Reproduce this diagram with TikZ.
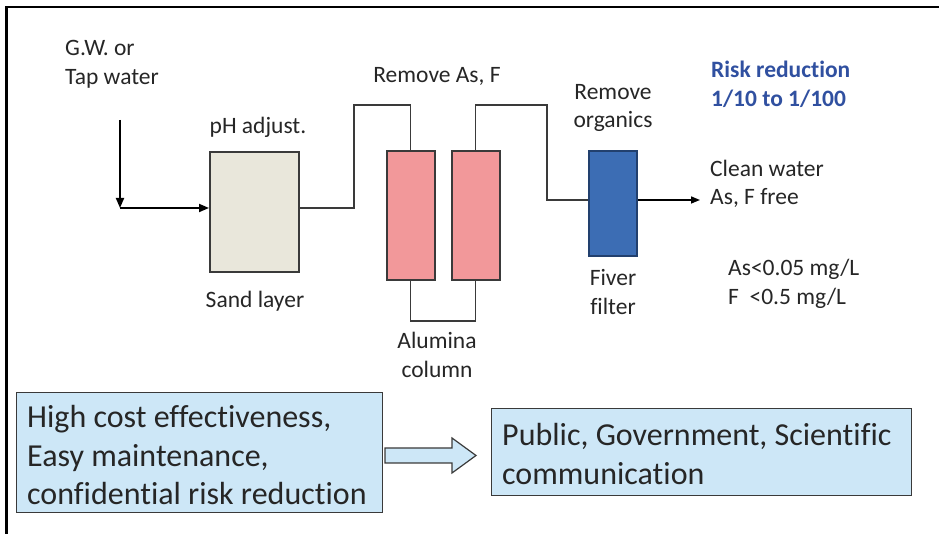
\documentclass[tikz,border=0pt]{standalone}
\usepackage{fontspec}
\setmainfont{Carlito}[Ligatures=CommonOff]
\usetikzlibrary{arrows.meta,calc}

\definecolor{inkgray}{HTML}{262626}
\definecolor{linegray}{HTML}{3A3A3A}
\definecolor{sandfill}{HTML}{E9E7DB}
\definecolor{aluminafill}{HTML}{F2989A}
\definecolor{filterfill}{HTML}{3C6DB4}
\definecolor{filteredge}{HTML}{22406E}
\definecolor{notefill}{HTML}{CDE7F7}
\definecolor{riskblue}{HTML}{3050A0}

\tikzset{
  lbl/.style={inner sep=0pt, text=inkgray, align=center,
    font=\fontsize{23.5}{28.7}\selectfont},
  lblleft/.style={lbl, align=left, anchor=west},
  vessel/.style={draw=linegray, line width=1.6pt, minimum width=48pt,
    minimum height=129pt, inner sep=0pt, anchor=south west},
  pipe/.style={draw=linegray, line width=1.3pt},
  flow/.style={draw=black, line width=1.8pt,
    -{Triangle[length=10pt,width=8pt]}},
  notebox/.style={draw=linegray, line width=1.2pt, fill=notefill,
    inner sep=0pt, anchor=south west},
  notetext/.style={inner sep=0pt, text=inkgray, align=left, anchor=west,
    font=\fontsize{32}{38.5}\selectfont},
}

\begin{document}
\begin{tikzpicture}[x=1pt,y=1pt]
  \useasboundingbox (0,0) rectangle (939,534);

  % open frame: left and top edges
  \draw[line width=2.5pt, black] (6.5,0) -- (6.5,527) -- (939,527);

  % treatment units
  \node[vessel, fill=sandfill, minimum width=89pt, minimum height=120pt]
    (sand) at (209,261) {};
  \node[vessel, fill=aluminafill] (col1) at (386,253) {};
  \node[vessel, fill=aluminafill] (col2) at (451,253) {};
  \node[vessel, fill=filterfill, draw=filteredge, minimum height=105pt]
    (filter) at (588,277) {};

  % routing points
  \coordinate (src) at (120,414);
  \coordinate (inlet) at (120,326);
  \coordinate (riser1) at (354,429);
  \coordinate (riser2) at (547,429);
  \coordinate (outlevel) at (0,334);
  \coordinate (product) at (700,334);

  % raw water inlet
  \draw[flow] (src) -- (inlet);
  \draw[flow] (inlet) -- (inlet -| sand.west);

  % piping between the units
  \draw[pipe] (inlet -| sand.east) -| (riser1) -| (col1.north);
  \draw[pipe] (col1.south) -- ++(0,-40) -| (col2.south);
  \draw[pipe] (col2.north) |- (riser2) |- (filter.west |- outlevel);

  % treated water outlet
  \draw[draw=black, line width=1.5pt, -{Triangle[length=9pt,width=7pt]}]
    (filter.east |- outlevel) -- (product);

  % labels
  \node[lblleft] (source) at (65,469.5) {G.W. or\\Tap water};
  \node[lbl] (phlbl) at (258,407) {pH adjust.};
  \node[lbl] (sandlbl) at (255,233) {Sand layer};
  \node[lbl] (aslbl) at (437,458) {Remove As, F};
  \node[lbl] (alumlbl) at (437,179) {Alumina\\column};
  \node[lbl] (orglbl) at (613,426) {Remove\\organics};
  \node[lbl] (fiberlbl) at (613,242) {Fiver\\filter};
  \node[lblleft, text=riskblue, font=\bfseries\fontsize{23.5}{28.7}\selectfont]
    (risk) at (711,450) {Risk reduction\\1/10 to 1/100};
  \node[lblleft] (clean) at (710,350) {Clean water\\As, F free};
  \node[lblleft] (limits) at (728,250) {As<0.05 mg/L\\F\ \ <0.5 mg/L};

  % summary boxes
  \node[notebox, minimum width=366pt, minimum height=120pt]
    (benefits) at (16,21) {};
  \node[notetext] (benefitstxt) at ([xshift=11pt,yshift=-3pt]benefits.west)
    {High cost effectiveness,\\Easy maintenance,\\confidential risk reduction};
  \node[notebox, minimum width=420pt, minimum height=87pt]
    (outreach) at (491,38) {};
  \node[notetext] (outreachtxt) at ([xshift=11pt,yshift=-2pt]outreach.west)
    {Public, Government, Scientific\\communication};

  % block arrow between the boxes
  \draw[draw=linegray, line width=1.2pt, fill=notefill]
    (385,71) -- (452,71) -- (452,61) -- (476,78.5) -- (452,96)
    -- (452,86) -- (385,86) -- cycle;
\end{tikzpicture}
\end{document}
